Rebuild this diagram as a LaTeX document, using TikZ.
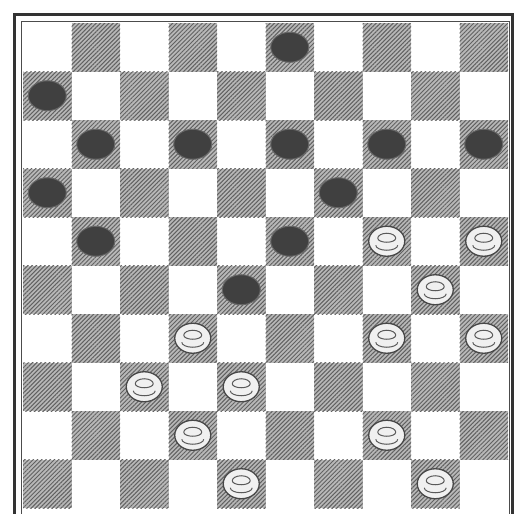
\documentclass[tikz,border=0pt]{standalone}
\usetikzlibrary{shapes.geometric,patterns.meta}
\tikzset{
  darksq/.style={fill=black!28,
    postaction={pattern={Lines[angle=45,distance=3pt,line width=1pt]}, pattern color=black!62}},
  bpiece/.style={ellipse, minimum width=38pt, minimum height=30pt, inner sep=0pt,
    fill=black!75, draw=black!60, line width=1pt},
  wpiece/.style={ellipse, minimum width=36pt, minimum height=30pt, inner sep=0pt,
    fill=black!6, draw=black!72, line width=1.3pt,
    path picture={
      \draw[black!65, line width=1pt]
        ([xshift=-9pt,yshift=3pt]path picture bounding box.center) arc (180:0:9pt and 5pt)
        ([xshift=-9pt,yshift=3pt]path picture bounding box.center) arc (180:360:9pt and 4pt);
      \draw[black!65, line width=1pt]
        ([xshift=-11pt,yshift=-4pt]path picture bounding box.center) arc (180:360:11pt and 5pt);
    }},
  frame/.style={line width=3pt, draw=black!80},
  innerframe/.style={line width=0.8pt, draw=black!70}
}
\begin{document}
\begin{tikzpicture}[x=1pt,y=-1pt]
\useasboundingbox (0,0) rectangle (515,514);
\fill[white] (0,0) rectangle (515,514);
% squares
\foreach \r in {0,...,9}{
  \foreach \c in {0,...,9}{
    \pgfmathtruncatemacro{\odd}{mod(\r+\c,2)}
    \ifnum\odd=1
      \path[darksq] ({23+48.5*\c},{23+48.5*\r}) rectangle ++(48.5,48.5);
    \fi
  }
}
% frames
\draw[frame] (14,516) -- (14,14) -- (512,14) -- (512,516);
\draw[innerframe] (21,516) -- (21,21) -- (509,21) -- (509,516);
% black pieces
\foreach \r/\c [count=\i] in {0/5,1/0,2/1,2/3,2/5,2/7,2/9,3/0,3/6,4/1,4/5,5/4}{
  \node[bpiece] (b\i) at ({23+48.5*(\c+0.5)},{23+48.5*(\r+0.5)}) {};
}
% white pieces
\foreach \r/\c [count=\i] in {4/7,4/9,5/8,6/3,6/7,6/9,7/2,7/4,8/3,8/7,9/4,9/8}{
  \node[wpiece] (w\i) at ({23+48.5*(\c+0.5)},{23+48.5*(\r+0.5)}) {};
}
\end{tikzpicture}
\end{document}
